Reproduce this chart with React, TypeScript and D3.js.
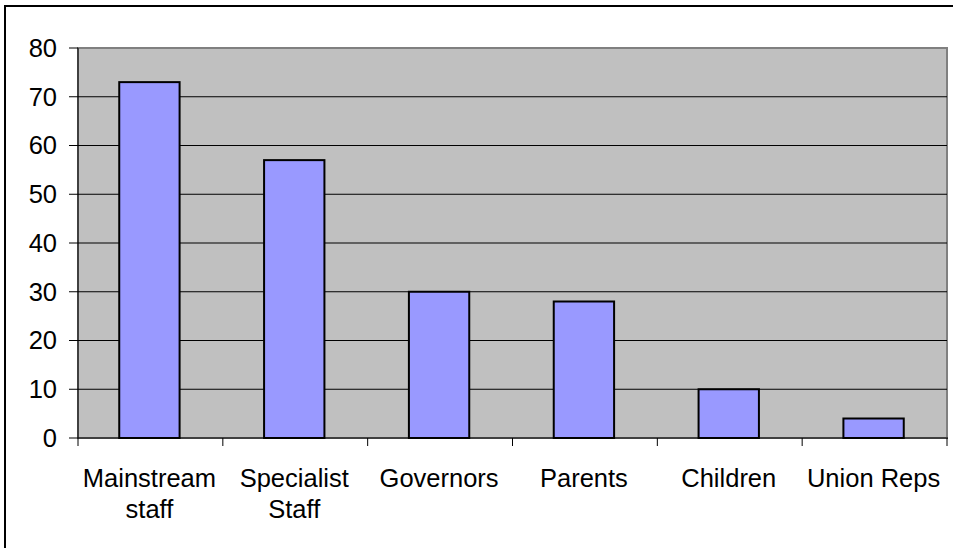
import React from "react";
import * as d3 from "d3";

const categories: string[][] = [
  ["Mainstream", "staff"],
  ["Specialist", "Staff"],
  ["Governors"],
  ["Parents"],
  ["Children"],
  ["Union Reps"],
];
const values: number[] = [73, 57, 30, 28, 10, 4];
const yTicks: number[] = [0, 10, 20, 30, 40, 50, 60, 70, 80];

export default function App() {
  const W = 953, H = 548;
  const left = 78, right = 947, top = 48, bottom = 438;
  const x = d3.scaleBand<number>().domain(d3.range(categories.length)).range([left, right]).paddingInner(0).paddingOuter(0);
  const y = d3.scaleLinear().domain([0, 80]).range([bottom, top]);
  const bw = x.bandwidth() / 2.4;
  const font = "'Liberation Sans', Arial, sans-serif";
  const fs = 25.5;
  return (
    <svg width={W} height={H} style={{ position: "absolute", left: 0, top: 0 }}>
      <rect x={0} y={0} width={W} height={H} fill="#fff" />
      <rect x={5} y={6} width={W + 20} height={H + 20} fill="none" stroke="#000" strokeWidth={2} />
      <rect x={left} y={top} width={right - left} height={bottom - top} fill="#c0c0c0" stroke="#808080" strokeWidth={2} />
      {yTicks.map((t) => (
        <g key={t}>
          {t > 0 && t < 80 && (
            <line x1={left} x2={right} y1={y(t)} y2={y(t)} stroke="#000" strokeWidth={1} />
          )}
          <line x1={69} x2={left} y1={y(t)} y2={y(t)} stroke="#000" strokeWidth={1} />
          <text x={57} y={y(t)} dy="0.35em" textAnchor="end" fontFamily={font} fontSize={fs} fill="#000">
            {t}
          </text>
        </g>
      ))}
      {values.map((v, i) => {
        const cx = (x(i) as number) + x.bandwidth() / 2 - 1;
        return (
          <rect key={i} x={cx - bw / 2} y={y(v)} width={bw} height={y(0) - y(v)} fill="#9999ff" stroke="#000" strokeWidth={2} />
        );
      })}
      <line x1={left} x2={left} y1={top} y2={bottom} stroke="#000" strokeWidth={1} />
      <line x1={left} x2={right + 1} y1={bottom} y2={bottom} stroke="#000" strokeWidth={1} />
      {d3.range(categories.length + 1).map((i) => {
        const xx = i < categories.length ? (x(i) as number) : right;
        return <line key={i} x1={xx} x2={xx} y1={bottom} y2={bottom + 8} stroke="#000" strokeWidth={1} />;
      })}
      {categories.map((lines, i) => {
        const cx = (x(i) as number) + x.bandwidth() / 2 - 1;
        return (
          <text key={i} x={cx} y={487} textAnchor="middle" fontFamily={font} fontSize={fs} fill="#000">
            {lines.map((l, j) => (
              <tspan key={j} x={cx} y={487 + j * 31}>
                {l}
              </tspan>
            ))}
          </text>
        );
      })}
    </svg>
  );
}
